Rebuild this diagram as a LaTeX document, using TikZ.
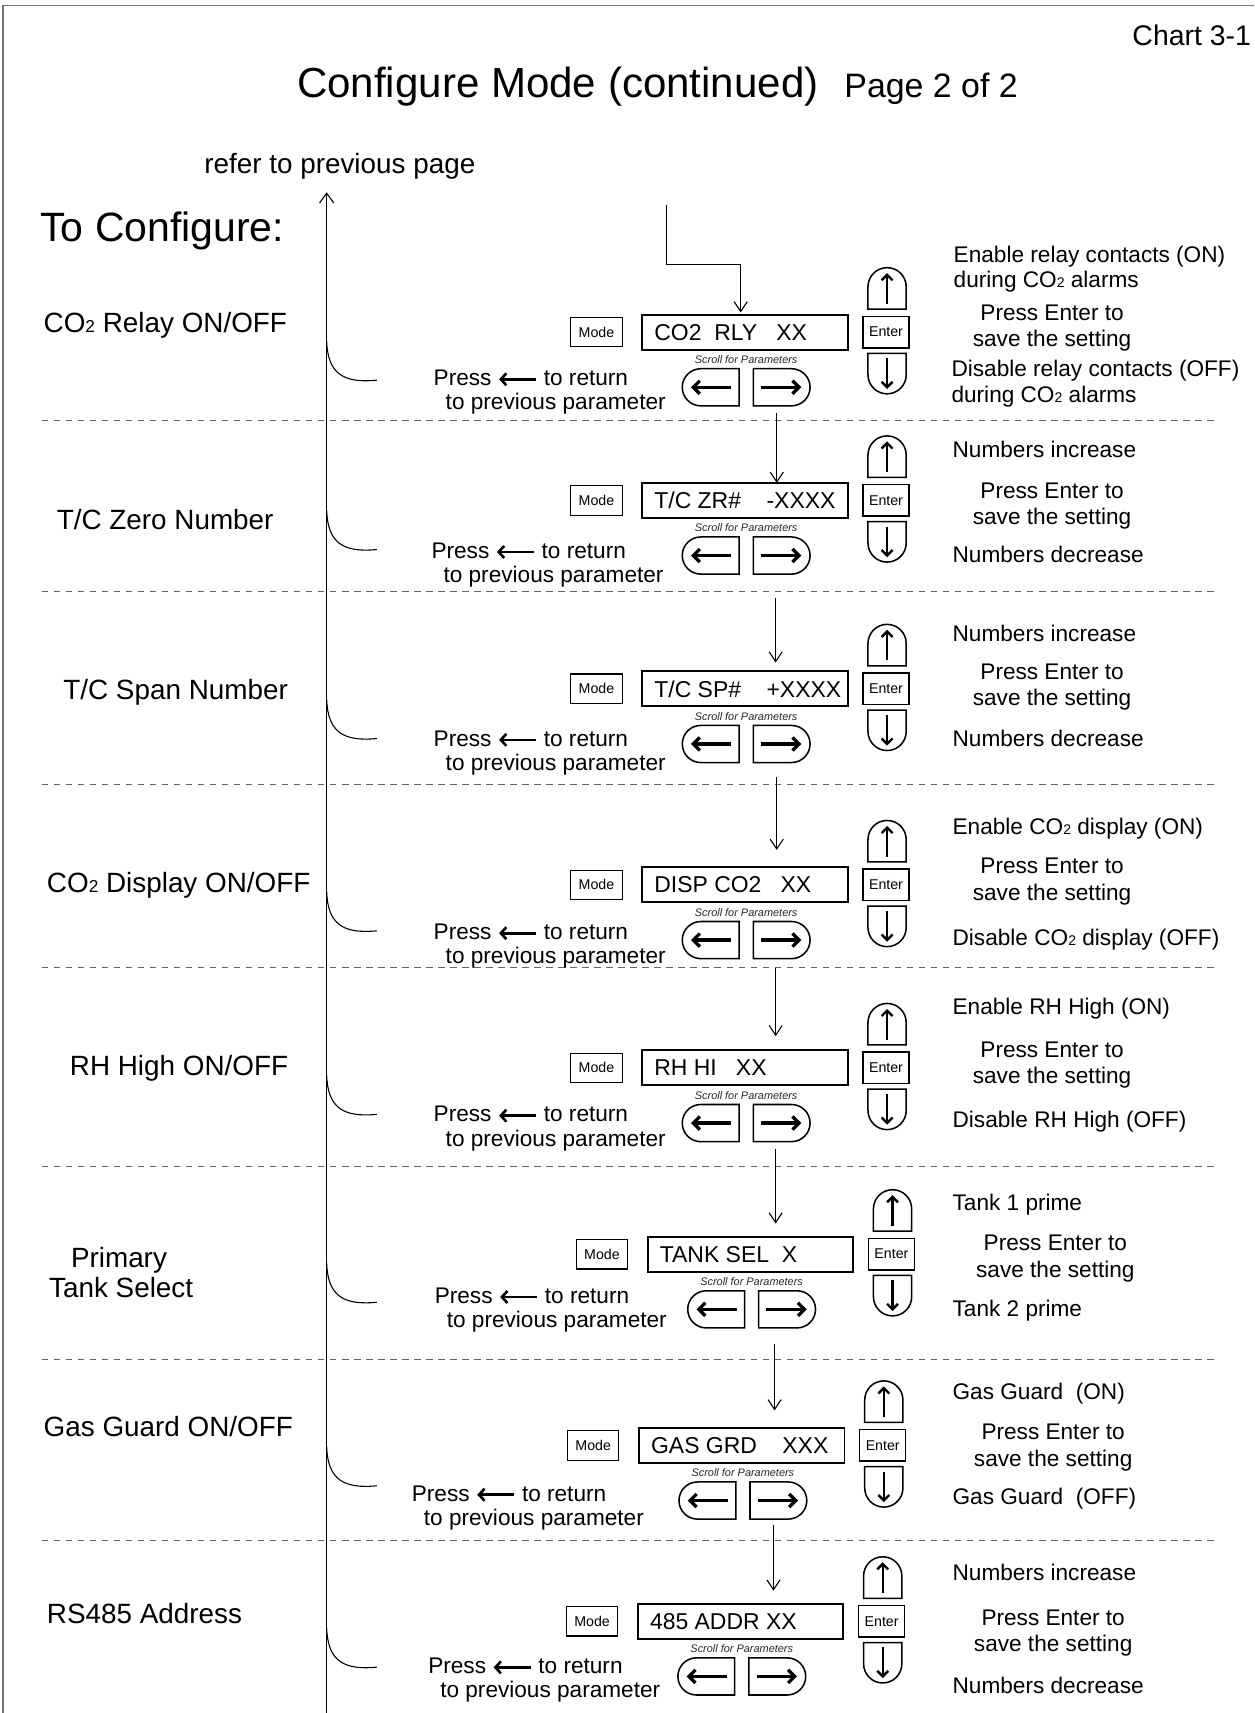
\documentclass[tikz,border=0pt]{standalone}
\usepackage{fontspec}
\usepackage{graphicx}
\setmainfont{Liberation Sans}
\usetikzlibrary{arrows.meta,shapes.misc}
\newcommand{\cotwo}{CO\scalebox{0.62}{2}}
\newcommand{\fs}[1]{\fontsize{#1}{#1}\selectfont}
\newcommand{\presarr}{\tikz[baseline=-0.28em]\draw[line width=2.4pt,-{Straight Barb[length=5pt,width=11pt]}] (34pt,0pt) -- (0pt,0pt);}
\tikzset{
  every node/.style={inner sep=0pt, outer sep=0pt},
  frame/.style={draw=black!55, line width=1.6pt},
  sep/.style={draw=black!60, line width=0.9pt, dash pattern=on 6pt off 5pt},
  lbl/.style={anchor=base west, font=\fs{25.5}},
  rtx/.style={anchor=base west, font=\fs{20.7}},
  ctx/.style={anchor=base, font=\fs{20.7}},
  modebox/.style={draw, line width=1.1pt, minimum width=47pt, minimum height=27pt, font=\fs{13}},
  dispbox/.style={draw, line width=1.8pt, minimum width=188pt, minimum height=32pt, font=\fs{21}},
  enterbox/.style={draw, line width=1.3pt, minimum width=42pt, minimum height=29pt, font=\fs{13}},
  scrolltxt/.style={font=\fs{10}\itshape, text=black!85},
  lbtn/.style={draw, line width=1.4pt, rounded rectangle, rounded rectangle right arc=none, minimum width=52pt, minimum height=34pt},
  rbtn/.style={draw, line width=1.4pt, rounded rectangle, rounded rectangle left arc=none, minimum width=52pt, minimum height=34pt},
  upbtn/.style={draw, line width=1.4pt, rounded rectangle, rounded rectangle left arc=none, rotate=90, minimum width=38pt, minimum height=35pt},
  dnbtn/.style={draw, line width=1.4pt, rounded rectangle, rounded rectangle right arc=none, rotate=90, minimum width=37pt, minimum height=35pt},
  bigarr/.style={line width=3pt, -{Straight Barb[length=6pt,width=12pt]}},
  smallarr/.style={line width=2.2pt, -{Straight Barb[length=5pt,width=10pt]}},
  mainln/.style={line width=1pt, -{Straight Barb[length=9pt,width=13pt]}},
  conn/.style={line width=1pt, -{Straight Barb[length=9pt,width=12pt]}},
  branchln/.style={line width=1pt}
}
% #1 name, #2 dx (signed), #3 display centre y, #4 display text
\newcommand{\panel}[4]{%
  \node[modebox] (m#1) at (546#2,#3) {Mode};
  \node[dispbox] (d#1) at (682#2,#3) {\makebox[166pt][l]{#4}};
  \node[scrolltxt] (s#1) at (683#2,#3+25) {Scroll for Parameters};
  \node[lbtn] (l#1) at (650.5#2,#3+50.5) {};
  \node[rbtn] (r#1) at (715.5#2,#3+50.5) {};
  \node[upbtn] (u#1) at (812#2,#3-40) {};
  \node[enterbox] (e#1) at (811#2,#3) {Enter};
  \node[dnbtn] (n#1) at (812#2,#3+38) {};
  \draw[bigarr] ([xshift=19pt]l#1.center) -- ([xshift=-18pt]l#1.center);
  \draw[bigarr] ([xshift=-19pt]r#1.center) -- ([xshift=18pt]r#1.center);
  \draw[smallarr] ([yshift=-14pt]u#1.center) -- ([yshift=14pt]u#1.center);
  \draw[smallarr] ([yshift=14pt]n#1.center) -- ([yshift=-14pt]n#1.center);
}
% #1 name, #2 end y
\newcommand{\branch}[2]{%
  \coordinate (b#1) at (299,#2-36);
  \coordinate (t#1) at (345,#2);
  \draw[branchln] (b#1) .. controls (300,#2-6) and (314,#2+3) .. (t#1);
}
% #1 name, #2 x, #3 baseline
\newcommand{\pressret}[3]{%
  \node[rtx] (p#1) at (#2,#3) {Press \presarr{} to return};
  \node[rtx] (q#1) at (#2+11,#3+22) {to previous parameter};
}
\begin{document}
\begin{tikzpicture}[x=1pt,y=-1pt]
\useasboundingbox (0,0) rectangle (1148,1568);
\draw[frame] (3,1568) -- (3,5) -- (1148,5);

\node[anchor=base east, font=\fs{26}] (chart) at (1145,42) {Chart 3-1};
\node[anchor=base west, font=\fs{38.5}] (title) at (272,89) {Configure Mode (continued)};
\node[anchor=base west, font=\fs{31}] (page) at (773,89) {Page 2 of 2};
\node[anchor=base west, font=\fs{25.5}] (refer) at (187,159) {refer to previous page};
\node[anchor=base west, font=\fs{37.5}] (tocfg) at (37,221) {To Configure:};

% left labels
\node[lbl] (L1) at (40,304) {\cotwo{} Relay ON/OFF};
\node[lbl] (L2) at (52,485) {T/C Zero Number};
\node[lbl] (L3) at (58,640) {T/C Span Number};
\node[lbl] (L4) at (43,817) {\cotwo{} Display ON/OFF};
\node[lbl] (L5) at (64,984) {RH High ON/OFF};
\node[lbl] (L6a) at (65,1160) {Primary};
\node[lbl] (L6b) at (45,1188) {Tank Select};
\node[lbl] (L7) at (40,1315) {Gas Guard ON/OFF};
\node[lbl] (L8) at (43,1486) {RS485 Address};

% separators
\foreach \yy in {385,541,718,886,1068,1244,1410}
  \draw[sep] (38,\yy) -- (1112,\yy);

% main return line
\coordinate (vbot) at (299,1568);
\coordinate (vtop) at (299,176);
\draw[mainln] (vbot) -- (vtop);
\branch{1}{348}
\branch{2}{503}
\branch{3}{676}
\branch{4}{852}
\branch{5}{1020}
\branch{6}{1192}
\branch{7}{1360}
\branch{8}{1526}

% panels
\panel{1}{+0}{304}{CO2\ \ RLY\ \ \ XX}
\panel{2}{+0}{458}{T/C ZR\#\ \ \ \ -XXXX}
\panel{3}{+0}{630.5}{T/C SP\#\ \ \ \ +XXXX}
\panel{4}{+0}{810}{DISP CO2\ \ \ XX}
\panel{5}{+0}{977.5}{RH HI\ \ \ XX}
\panel{6}{+5}{1148}{TANK SEL\ \ X}
\panel{7}{-3}{1323}{GAS GRD\ \ \ \ XXX}
\panel{8}{-4}{1484}{485 ADDR XX}

% press-to-return texts
\pressret{1}{397}{353}
\pressret{2}{395}{511}
\pressret{3}{397}{683}
\pressret{4}{397}{860}
\pressret{5}{397}{1027}
\pressret{6}{398}{1193}
\pressret{7}{377}{1374}
\pressret{8}{392}{1532}

% right column
\node[rtx] (a1) at (873,240) {Enable relay contacts (ON)};
\node[rtx] (a1b) at (873,263) {during \cotwo{} alarms};
\node[ctx] (x1) at (963,293) {Press Enter to};
\node[ctx] (y1) at (963,317) {save the setting};
\node[rtx] (z1) at (871,345) {Disable relay contacts (OFF)};
\node[rtx] (z1b) at (871,368) {during \cotwo{} alarms};

\node[rtx] (a2) at (872,419) {Numbers increase};
\node[ctx] (x2) at (963,456) {Press Enter to};
\node[ctx] (y2) at (963,480) {save the setting};
\node[rtx] (z2) at (872,515) {Numbers decrease};

\node[rtx] (a3) at (872,587) {Numbers increase};
\node[ctx] (x3) at (963,622) {Press Enter to};
\node[ctx] (y3) at (963,646) {save the setting};
\node[rtx] (z3) at (872,683) {Numbers decrease};

\node[rtx] (a4) at (872,764) {Enable \cotwo{} display (ON)};
\node[ctx] (x4) at (963,800) {Press Enter to};
\node[ctx] (y4) at (963,824) {save the setting};
\node[rtx] (z4) at (872,865) {Disable \cotwo{} display (OFF)};

\node[rtx] (a5) at (872,929) {Enable RH High (ON)};
\node[ctx] (x5) at (963,968) {Press Enter to};
\node[ctx] (y5) at (963,992) {save the setting};
\node[rtx] (z5) at (872,1032) {Disable RH High (OFF)};

\node[rtx] (a6) at (872,1108) {Tank 1 prime};
\node[ctx] (x6) at (966,1145) {Press Enter to};
\node[ctx] (y6) at (966,1169) {save the setting};
\node[rtx] (z6) at (872,1205) {Tank 2 prime};

\node[rtx] (a7) at (872,1281) {Gas Guard\ \ (ON)};
\node[ctx] (x7) at (964,1318) {Press Enter to};
\node[ctx] (y7) at (964,1342) {save the setting};
\node[rtx] (z7) at (872,1377) {Gas Guard\ \ (OFF)};

\node[rtx] (a8) at (872,1447) {Numbers increase};
\node[ctx] (x8) at (964,1488) {Press Enter to};
\node[ctx] (y8) at (964,1512) {save the setting};
\node[rtx] (z8) at (872,1550) {Numbers decrease};

% flow connectors
\coordinate (in0) at (610,188);
\coordinate (k0) at (678,242);
\draw[conn, shorten >=2pt] (in0) |- (k0) -- (k0 |- d1.north);
\coordinate (c2) at (711,378);
\draw[conn] (c2) -- (c2 |- d2.north);
\coordinate (c3) at (710,547);
\draw[conn, shorten >=8pt] (c3) -- (c3 |- d3.north);
\coordinate (c4) at (711,711);
\draw[conn, shorten >=16pt] (c4) -- (c4 |- d4.north);
\coordinate (c5) at (710,886);
\draw[conn, shorten >=13pt] (c5) -- (c5 |- d5.north);
\coordinate (c6) at (710,1052);
\draw[conn, shorten >=12pt] (c6) -- (c6 |- d6.north);
\coordinate (c7) at (709,1230);
\draw[conn, shorten >=16pt] (c7) -- (c7 |- d7.north);
\coordinate (c8) at (708,1396);
\draw[conn, shorten >=12pt] (c8) -- (c8 |- d8.north);
\end{tikzpicture}
\end{document}
